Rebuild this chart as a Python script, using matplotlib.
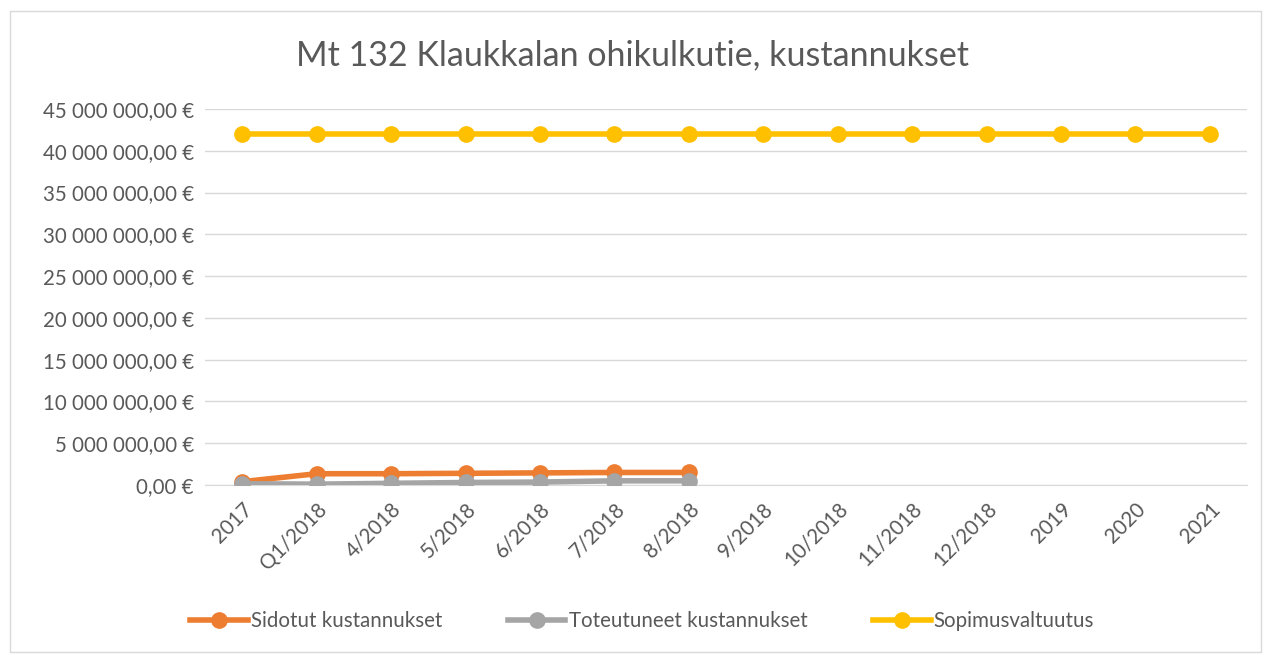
import matplotlib
matplotlib.use("Agg")
import matplotlib.pyplot as plt
from matplotlib.patches import Rectangle
from matplotlib.ticker import FuncFormatter

plt.rcParams["font.family"] = ["Lato", "DejaVu Sans"]

categories = ["2017", "Q1/2018", "4/2018", "5/2018", "6/2018", "7/2018", "8/2018",
              "9/2018", "10/2018", "11/2018", "12/2018", "2019", "2020", "2021"]
sidotut = [400_000, 1_350_000, 1_350_000, 1_400_000, 1_450_000, 1_500_000, 1_500_000]
toteutuneet = [150_000, 100_000, 200_000, 300_000, 350_000, 500_000, 500_000]
sopimus = [42_000_000] * 14

TEXT = "#595959"

fig = plt.figure(figsize=(12.64, 6.55), dpi=100)
fig.patches.append(Rectangle((0.008, 0.005), 0.99, 0.978, transform=fig.transFigure,
                             fill=False, edgecolor="#D9D9D9", lw=1))
ax = fig.add_axes([205 / 1264, 1 - 485 / 655, (1247 - 205) / 1264, (485 - 109) / 655])

x = list(range(len(categories)))
style = dict(lw=4, marker="o", ms=11, zorder=3)
ax.plot(x[:len(sidotut)], sidotut, color="#ED7D31", label="Sidotut kustannukset", **style)
ax.plot(x[:len(toteutuneet)], toteutuneet, color="#A5A5A5",
        label="Toteutuneet kustannukset", **style)
ax.plot(x, sopimus, color="#FFC000", label="Sopimusvaltuutus", **style)

ax.set_xlim(-0.5, len(categories) - 0.5)
ax.set_ylim(0, 45_000_000)
ax.set_yticks(range(0, 45_000_001, 5_000_000))


def eur(v, _):
    s = f"{v:,.2f}".replace(",", " ").replace(".", ",")
    return f"{s} €"


ax.yaxis.set_major_formatter(FuncFormatter(eur))
ax.set_xticks(x)
ax.set_xticklabels(categories, rotation=45, ha="right", rotation_mode="anchor")
ax.tick_params(axis="both", length=0, labelsize=14.8, colors=TEXT)
ax.tick_params(axis="x", pad=10)
ax.tick_params(axis="y", pad=8)
ax.grid(axis="y", color="#D9D9D9", lw=1)
ax.set_axisbelow(True)
for s in ["top", "right", "left"]:
    ax.spines[s].set_visible(False)
ax.spines["bottom"].set_color("#D9D9D9")

fig.text(0.5, 1 - 55 / 655, "Mt 132 Klaukkalan ohikulkutie, kustannukset",
         ha="center", va="center", fontsize=24.5, color=TEXT)

fig.legend(loc="center", bbox_to_anchor=(0.508, 1 - 621 / 655), ncol=3, frameon=False,
           fontsize=14.8, labelcolor=TEXT, handlelength=2.8, handletextpad=0.15,
           columnspacing=3.2)

fig.savefig("out.png", dpi=100)
